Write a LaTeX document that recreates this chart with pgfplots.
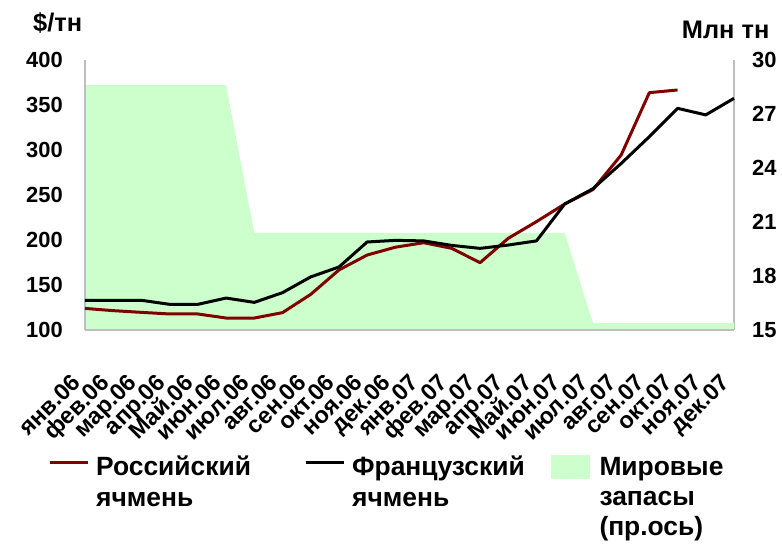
\documentclass[border=0pt]{standalone}
\usepackage{pgfplots}
\pgfplotsset{compat=1.18}
\usepackage{fontspec}
\setmainfont{Liberation Sans}
\definecolor{rusred}{RGB}{128,0,0}
\definecolor{zapgreen}{RGB}{204,255,204}
\definecolor{axgray}{RGB}{190,190,190}

\pgfplotstableread{
x zap
0 28.6
1 28.6
2 28.6
3 28.6
4 28.6
5 28.6
6 20.4
7 20.4
8 20.4
9 20.4
10 20.4
11 20.4
12 20.4
13 20.4
14 20.4
15 20.4
16 20.4
17 20.4
18 15.4
19 15.4
20 15.4
21 15.4
22 15.4
23 15.4
}\zapasy

\pgfplotstableread{
x fr
0 133
1 133
2 133
3 128.5
4 128.5
5 135.5
6 130.7
7 141.5
8 159
9 170
10 197.8
11 199.6
12 199
13 194
14 190.7
15 194.4
16 199
17 240
18 257
19 285
20 314.8
21 346.3
22 339
23 357.4
}\french

\pgfplotstableread{
x ru
0 124
1 121.5
2 119.6
3 117.8
4 117.8
5 113.3
6 113.3
7 119.3
8 139.6
9 166.7
10 183.3
11 192
12 197
13 190.7
14 174.8
15 201.9
16 220.4
17 240
18 256
19 294.4
20 363.7
21 366.7
}\russian

\pgfplotsset{
  common/.style={
    scale only axis, width=649bp, height=270bp,
    xmin=0, xmax=23,
    axis line style={-, draw=axgray, line width=1.5bp},
    major tick length=0pt,
    tick style={draw=none},
    /pgf/number format/assume math mode=true,
    tick label style={font=\fontsize{22}{25}\selectfont\bfseries},
  }
}

\begin{document}
\begin{tikzpicture}
\useasboundingbox (-85bp,-216bp) rectangle (697bp,330bp);
\begin{axis}[common,
  ymin=15, ymax=30,
  axis y line*=right, axis x line=none,
  ytick={15,18,21,24,27,30},
  yticklabel style={anchor=west, inner sep=0pt, xshift=18bp},
  every axis y label/.style={at={(axis description cs:0.9194,1.0778)}, anchor=base west, inner sep=0pt, font=\fontsize{25.5}{30}\selectfont\bfseries},
  ylabel={Млн тн},
]
\addplot[fill=zapgreen, draw=none] table[x=x, y=zap] {\zapasy} \closedcycle;
\end{axis}
\begin{axis}[common,
  ymin=100, ymax=400,
  axis y line*=left, axis x line*=bottom,
  ytick={100,150,...,400},
  yticklabel style={anchor=east, inner sep=0pt, xshift=-22bp},
  xtick={0,...,23},
  xticklabels={янв.06,фев.06,мар.06,апр.06,Май.06,июн.06,июл.06,авг.06,сен.06,окт.06,ноя.06,дек.06,янв.07,фев.07,мар.07,апр.07,Май.07,июн.07,июл.07,авг.07,сен.07,окт.07,ноя.07,дек.07},
  xticklabel style={inner sep=0pt, font=\fontsize{23.5}{28}\selectfont\bfseries, xshift=-15bp, yshift=-42bp, rotate=45, anchor=north east},
  every axis y label/.style={at={(axis description cs:-0.0801,1.1074)}, anchor=base west, inner sep=0pt, font=\fontsize{25.5}{30}\selectfont\bfseries},
  ylabel={\$/тн},
  clip=false,
  legend columns=3,
  legend cell align=left,
  legend style={draw=none, fill=none, at={(axis description cs:-0.0617,-0.452)}, anchor=north west,
    font=\fontsize{26.5}{30.5}\selectfont\bfseries,
    /tikz/every even column/.append style={column sep=0pt}},
  legend image code/.code={\draw[#1] (0bp,4bp) -- (38bp,4bp); \path (43bp,4bp);},
]
\addplot[rusred, line width=3bp, line join=round] table[x=x, y=ru] {\russian};
\addlegendentry{\parbox[t]{206bp}{Российский\\ячмень}}
\addplot[black, line width=3bp, line join=round] table[x=x, y=fr] {\french};
\addlegendentry{\parbox[t]{197bp}{Французский\\ячмень}}
\addlegendimage{legend image code/.code={\fill[zapgreen] (0bp,-11.5bp) rectangle (38bp,11.5bp); \path (46bp,0bp);}}
\addlegendentry{\parbox[t]{140bp}{Мировые\\запасы\\(пр.ось)}}
\end{axis}
\end{tikzpicture}
\end{document}
